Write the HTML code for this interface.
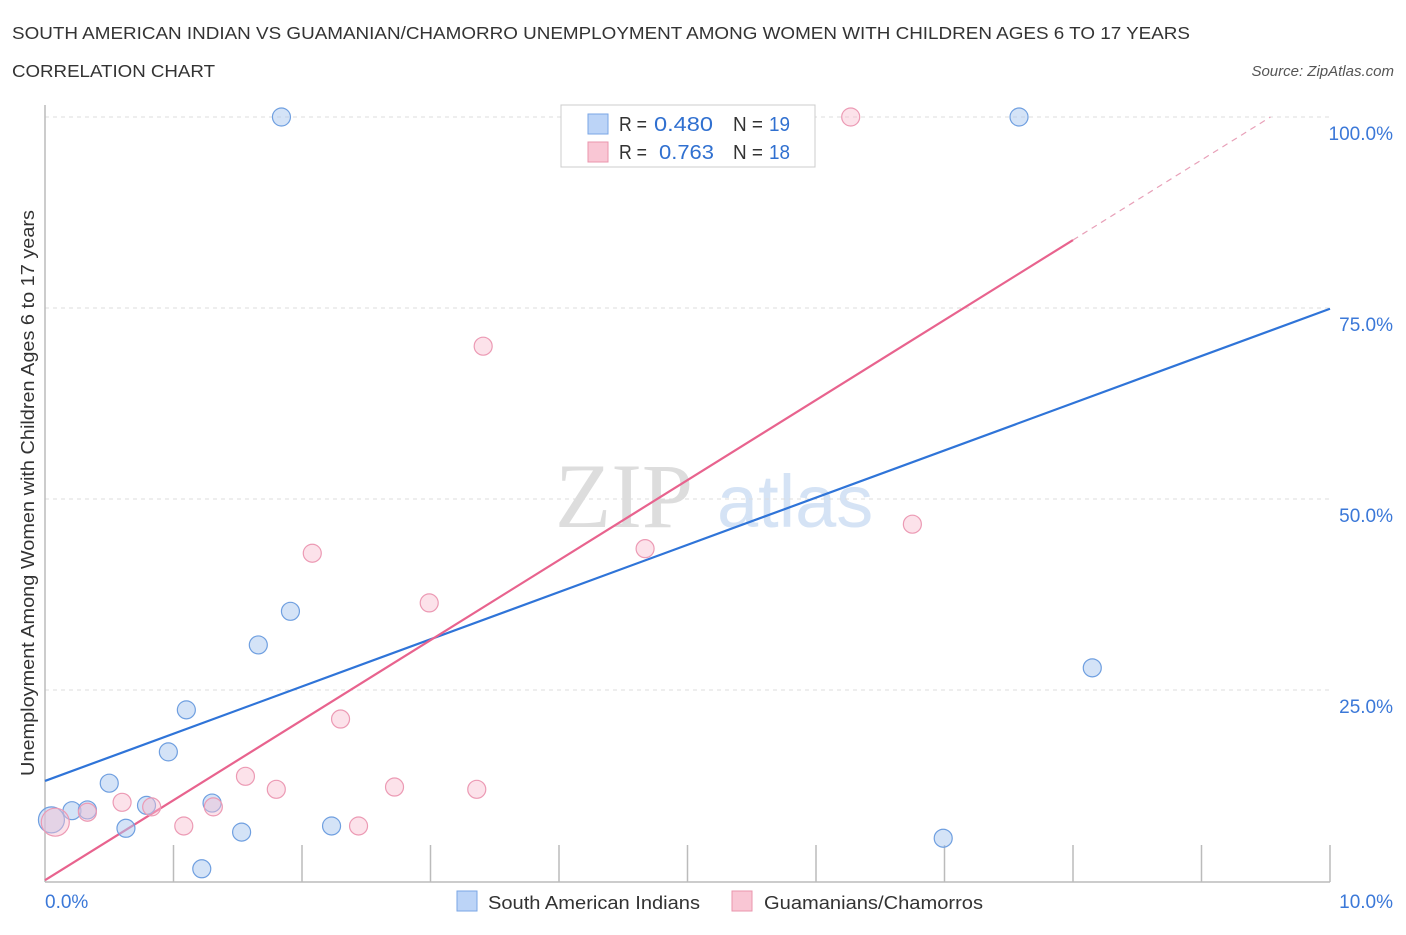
<!DOCTYPE html>
<html><head><meta charset="utf-8"><style>
body{margin:0;background:#fff;font-family:"Liberation Sans",sans-serif;}
</style></head><body>
<svg id="chart" width="1406" height="930" viewBox="0 0 1406 930" xmlns="http://www.w3.org/2000/svg" font-family="Liberation Sans, sans-serif">
<text x="12" y="39" font-size="17.5" fill="#333" textLength="1178" lengthAdjust="spacingAndGlyphs">SOUTH AMERICAN INDIAN VS GUAMANIAN/CHAMORRO UNEMPLOYMENT AMONG WOMEN WITH CHILDREN AGES 6 TO 17 YEARS</text>
<text x="12" y="77" font-size="17.5" fill="#333" textLength="203" lengthAdjust="spacingAndGlyphs">CORRELATION CHART</text>
<text x="1394" y="76" font-size="15" fill="#555" text-anchor="end" font-style="italic">Source: ZipAtlas.com</text>
<text x="555" y="527" font-size="92" fill="#ddd" font-family="Liberation Serif, serif">ZIP</text>
<text x="717" y="527" font-size="74" fill="#d5e3f5">atlas</text>
<text transform="translate(34,493) rotate(-90)" font-size="18" fill="#333" text-anchor="middle" textLength="566" lengthAdjust="spacingAndGlyphs">Unemployment Among Women with Children Ages 6 to 17 years</text>
<g id="grid"></g><g id="axes"></g><g id="lines"></g><g id="points"></g>
<g>
<rect x="561" y="105" width="254" height="62" fill="#fff" stroke="#ccc"/>
<rect x="588" y="114" width="20" height="20" fill="#bcd4f7" stroke="#7aa6e6"/>
<text x="619" y="131" font-size="20" fill="#333" textLength="28" lengthAdjust="spacingAndGlyphs">R =</text><text x="654" y="131" font-size="20" fill="#3070d0" textLength="59" lengthAdjust="spacingAndGlyphs">0.480</text>
<text x="733" y="131" font-size="20" fill="#333" textLength="30" lengthAdjust="spacingAndGlyphs">N =</text><text x="769" y="131" font-size="20" fill="#3070d0" textLength="21" lengthAdjust="spacingAndGlyphs">19</text>
<rect x="588" y="142" width="20" height="20" fill="#f9c6d4" stroke="#ea95ad"/>
<text x="619" y="159" font-size="20" fill="#333" textLength="28" lengthAdjust="spacingAndGlyphs">R =</text><text x="659" y="159" font-size="20" fill="#3070d0" textLength="55" lengthAdjust="spacingAndGlyphs">0.763</text>
<text x="733" y="159" font-size="20" fill="#333" textLength="30" lengthAdjust="spacingAndGlyphs">N =</text><text x="769" y="159" font-size="20" fill="#3070d0" textLength="21" lengthAdjust="spacingAndGlyphs">18</text>
</g>
<g>
<rect x="457" y="891" width="20" height="20" fill="#bcd4f7" stroke="#7aa6e6"/>
<text x="488" y="909" font-size="18" fill="#333" textLength="212" lengthAdjust="spacingAndGlyphs">South American Indians</text>
<rect x="732" y="891" width="20" height="20" fill="#f9c6d4" stroke="#ea95ad"/>
<text x="764" y="909" font-size="18" fill="#333" textLength="219" lengthAdjust="spacingAndGlyphs">Guamanians/Chamorros</text>
</g>
</svg>
<script>
const blueX=[0.05,0.21,0.33,0.50,0.63,0.79,0.96,1.10,1.22,1.30,1.53,1.66,1.91,1.84,2.23,5.38,6.99,7.58,8.15];
const blueY=[8.0,9.2,9.3,12.8,6.9,9.9,16.9,22.4,1.6,10.2,6.4,30.9,35.3,100,7.2,100,5.6,100,27.9];
const blueR=[13,9,9,9,9,9,9,9,9,9,9,9,9,9,9,9,9,9,9];
const pinkX=[0.08,0.33,0.60,0.83,1.08,1.31,1.56,1.80,2.08,2.30,2.44,2.72,2.99,3.36,3.41,4.67,6.27,6.75];
const pinkY=[7.7,9.0,10.3,9.7,7.2,9.7,13.7,12.0,42.9,21.2,7.2,12.3,36.4,12.0,70.0,43.5,100,46.7];
const pinkR=[14,9,9,9,9,9,9,9,9,9,9,9,9,9,9,9,9,9];
const yTicks=[25,50,75,100];
const yTickLabels=["25.0%","50.0%","75.0%","100.0%"];
const blueTrend=[13.1,74.9];
const pinkTrend=[0.1,10.475];
const NS="http://www.w3.org/2000/svg";
const sx=v=>45+v*128.5, sy=v=>881-v*7.64;
function mk(tag,attrs,parent){const e=document.createElementNS(NS,tag);for(const k in attrs)e.setAttribute(k,attrs[k]);document.getElementById(parent).appendChild(e);return e;}
yTicks.forEach((t,i)=>{
 let g=mk('line',{x1:45,x2:1330,y1:sy(t),y2:sy(t),stroke:'#ddd','stroke-dasharray':'4,4'},'grid');
 
 
 let l=mk('text',{x:1393,y:sy(t)+23,'font-size':19,fill:'#3b78d8','text-anchor':'end'},'grid');
 l.textContent=yTickLabels[i];
 
 
});
let ax=mk('line',{x1:45,x2:1330,y1:882,y2:882,stroke:'#bbb','stroke-width':1.5},'axes');


let ay=mk('line',{x1:45,x2:45,y1:105,y2:882,stroke:'#bbb','stroke-width':1.5},'axes');


for(let i=1;i<=10;i++){let t=mk('line',{x1:sx(i),x2:sx(i),y1:845,y2:882,stroke:'#bbb','stroke-width':1.5},'axes');
 
 }
let x0=mk('text',{x:45,y:908,'font-size':19,fill:'#3b78d8'},'axes');x0.textContent='0.0%';


let x1=mk('text',{x:1393,y:908,'font-size':19,fill:'#3b78d8','text-anchor':'end'},'axes');x1.textContent='10.0%';


let bl=mk('line',{x1:sx(0),y1:sy(blueTrend[0]),x2:sx(10),y2:sy(blueTrend[1]),stroke:'#2f74d8','stroke-width':2.2},'lines');


const pf=x=>pinkTrend[0]+pinkTrend[1]*x;
const xEnd=(100-pinkTrend[0])/pinkTrend[1];
let pl=mk('line',{x1:sx(0),y1:sy(pf(0)),x2:sx(8),y2:sy(pf(8)),stroke:'#e8638e','stroke-width':2.2},'lines');


let pd=mk('line',{x1:sx(8),y1:sy(pf(8)),x2:sx(xEnd),y2:sy(100),stroke:'#e8a0b8','stroke-width':1.2,'stroke-dasharray':'6,5'},'lines');


blueX.forEach((x,i)=>{let c=mk('circle',{cx:sx(x),cy:sy(blueY[i]),r:blueR[i],fill:'rgba(170,200,240,0.5)',stroke:'#6f9fe0','stroke-width':1.2},'points');
 
 });
pinkX.forEach((x,i)=>{let c=mk('circle',{cx:sx(x),cy:sy(pinkY[i]),r:pinkR[i],fill:'rgba(248,190,208,0.45)',stroke:'#ec9ab4','stroke-width':1.2},'points');
 
 });
</script>
</body></html>
